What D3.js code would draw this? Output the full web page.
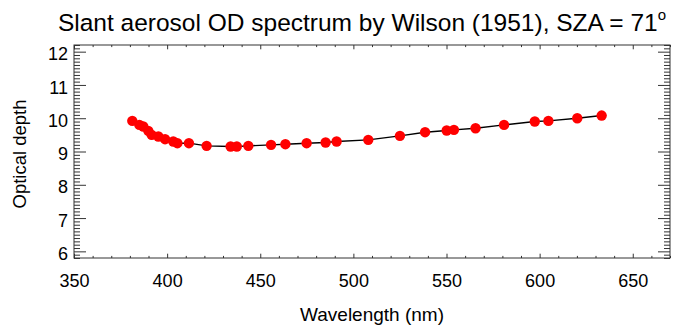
<!DOCTYPE html>
<html>
<head>
<meta charset="utf-8">
<script src="https://cdn.jsdelivr.net/npm/d3@7"></script>
<style>
  html, body { margin: 0; padding: 0; background: #fff; }
  svg text { font-family: "Liberation Sans", Arial, Helvetica, sans-serif; fill: #000; }
</style>
</head>
<body>
<svg id="chart" width="674" height="327"></svg>
<script>
// ---- data ----
const wavelengths = [381.3, 385.1, 387.2, 389.9, 391.7, 395.3, 398.9, 403.3, 405.5, 411.7,
                     421.2, 434.1, 437.4, 443.6, 455.8, 463.5, 474.9, 485.1, 491.0, 508.0,
                     525.0, 538.5, 550.1, 554.0, 565.6, 580.9, 597.4, 604.7, 620.2, 633.3];
const opticalDepth = [9.92, 9.80, 9.75, 9.62, 9.50, 9.45, 9.37, 9.30, 9.25, 9.25,
                      9.17, 9.15, 9.15, 9.17, 9.20, 9.22, 9.25, 9.27, 9.30, 9.35,
                      9.47, 9.58, 9.63, 9.65, 9.70, 9.80, 9.90, 9.92, 10.00, 10.08];
const xTicks = [350, 400, 450, 500, 550, 600, 650];
const yTicks = [6, 7, 8, 9, 10, 11, 12];
const xDomain = [350, 670];
const yDomain = [5.8, 12.2];
const titleText = "Slant aerosol OD spectrum by Wilson (1951), SZA = 71";
const xLabel = "Wavelength (nm)";
const yLabel = "Optical depth";

// ---- layout ----
const L = 74, R = 670, T = 45, B = 258;
const svg = d3.select("#chart");
const x = d3.scaleLinear().domain(xDomain).range([L, R]);
const y = d3.scaleLinear().domain(yDomain).range([B, T]);

const axisColor = "#333";
const xMaj = 4.3, xMin = 2.1, yMaj = 12, yMin = 6;

const xMinorTicks = d3.range(xDomain[0], xDomain[1] + 0.001, 10).filter(v => v % 50 !== 0);
const yMinorTicks = d3.range(58, 123, 1).map(v => v / 10).filter(v => Math.abs(v - Math.round(v)) > 1e-6);

function styleAxis(g) {
  g.select(".domain").remove();
  g.selectAll(".tick line").attr("stroke", axisColor).attr("stroke-width", 1);
}

// bottom major with labels
svg.append("g").attr("transform", `translate(0,${B})`)
  .call(d3.axisBottom(x).tickValues(xTicks).tickSize(-xMaj).tickPadding(16).tickFormat(d3.format("d")))
  .call(styleAxis)
  .call(g => g.selectAll(".tick text").attr("font-size", 18).attr("dy", "0.71em"));
// bottom minor
svg.append("g").attr("transform", `translate(0,${B})`)
  .call(d3.axisBottom(x).tickValues(xMinorTicks).tickSize(-xMin).tickFormat(""))
  .call(styleAxis);
// top major/minor
svg.append("g").attr("transform", `translate(0,${T})`)
  .call(d3.axisTop(x).tickValues(xTicks).tickSize(-xMaj).tickFormat(""))
  .call(styleAxis);
svg.append("g").attr("transform", `translate(0,${T})`)
  .call(d3.axisTop(x).tickValues(xMinorTicks).tickSize(-xMin).tickFormat(""))
  .call(styleAxis);
// left major with labels
svg.append("g").attr("transform", `translate(${L},0)`)
  .call(d3.axisLeft(y).tickValues(yTicks).tickSize(-yMaj).tickFormat(d3.format("d")))
  .call(styleAxis)
  .call(g => g.selectAll(".tick text").attr("font-size", 18).attr("x", -6).attr("dy", "0.45em"));
svg.append("g").attr("transform", `translate(${L},0)`)
  .call(d3.axisLeft(y).tickValues(yMinorTicks).tickSize(-yMin).tickFormat(""))
  .call(styleAxis);
// right
svg.append("g").attr("transform", `translate(${R},0)`)
  .call(d3.axisRight(y).tickValues(yTicks).tickSize(-yMaj).tickFormat(""))
  .call(styleAxis);
svg.append("g").attr("transform", `translate(${R},0)`)
  .call(d3.axisRight(y).tickValues(yMinorTicks).tickSize(-yMin).tickFormat(""))
  .call(styleAxis);

// frame
svg.append("rect").attr("x", L).attr("y", T).attr("width", R - L).attr("height", B - T)
  .attr("fill", "none").attr("stroke", axisColor).attr("stroke-width", 1);

// data line
const pts = wavelengths.map((w, i) => [w, opticalDepth[i]]);
svg.append("path").datum(pts)
  .attr("fill", "none").attr("stroke", "#000").attr("stroke-width", 1.4)
  .attr("d", d3.line().x(d => x(d[0])).y(d => y(d[1])));
svg.append("g").selectAll("circle").data(pts).join("circle")
  .attr("cx", d => x(d[0])).attr("cy", d => y(d[1])).attr("r", 5.2)
  .attr("fill", "#ff0000");

// title
const t = svg.append("text").attr("x", 362).attr("y", 31)
  .attr("text-anchor", "middle").attr("font-size", 24.5).text(titleText);
t.append("tspan").attr("font-size", 15).attr("dy", -11).text("o");

// axis titles
svg.append("text").attr("x", (L + R) / 2).attr("y", 321)
  .attr("text-anchor", "middle").attr("font-size", 19).text(xLabel);
svg.append("text").attr("transform", `translate(26,154) rotate(-90)`)
  .attr("text-anchor", "middle").attr("font-size", 18.5).text(yLabel);
</script>
</body>
</html>
